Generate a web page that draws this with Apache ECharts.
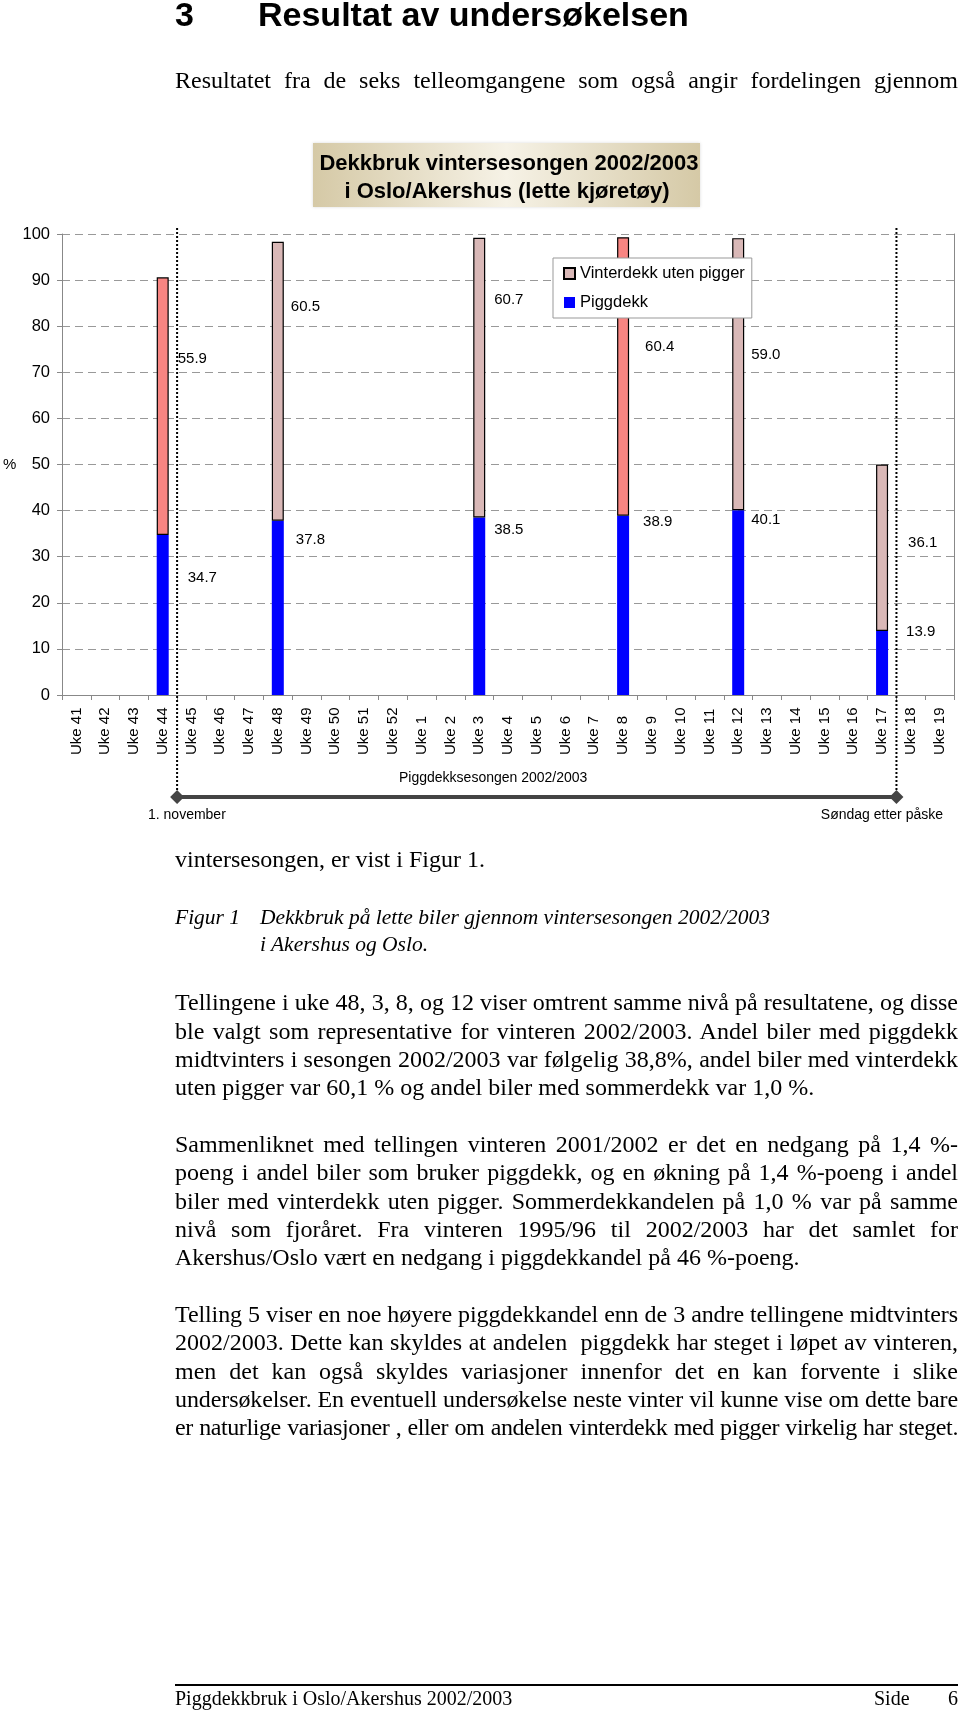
<!DOCTYPE html>
<html>
<head>
<meta charset="utf-8">
<script src="https://cdn.jsdelivr.net/npm/echarts/dist/echarts.min.js"></script>
<style>
  html, body { margin:0; padding:0; background:#fff; }
  #page { position:relative; width:960px; height:1712px; overflow:hidden; }
  #chart { position:absolute; left:0; top:0; width:960px; height:1712px; }
  .t { position:absolute; font-family:"Liberation Serif","Times New Roman",serif; font-size:24px; line-height:28.33px; color:#000; white-space:normal; }
  .j { width:783px; text-align:justify; text-align-last:justify; }
  .l { width:783px; text-align:left; }
  .h { position:absolute; font-family:"Liberation Sans",Arial,sans-serif; font-weight:bold; font-size:34px; line-height:34px; color:#000; top:-3px; }
  .cap { position:absolute; font-family:"Liberation Serif","Times New Roman",serif; font-style:italic; font-size:21.5px; line-height:26.7px; color:#000; white-space:nowrap; }
  .foot { position:absolute; font-family:"Liberation Serif","Times New Roman",serif; font-size:20px; line-height:24px; color:#000; white-space:nowrap; top:1686px; }
</style>
</head>
<body>
<div id="page">
  <div id="chart"></div>

  <div class="h" style="left:175px;">3</div>
  <div class="h" style="left:258px;">Resultat av undersøkelsen</div>

  <div class="t j" style="left:175px; top:66px;">Resultatet fra de seks telleomgangene som også angir fordelingen gjennom</div>

  <div class="t l" style="left:175px; top:845px;">vintersesongen, er vist i Figur 1.</div>

  <div class="cap" style="left:175px; top:904px;">Figur 1</div>
  <div class="cap" style="left:260px; top:904px;">Dekkbruk på lette biler gjennom vintersesongen 2002/2003</div>
  <div class="cap" style="left:260px; top:930.7px;">i Akershus og Oslo.</div>

  <div class="t j" style="left:175px; top:988.2px;">Tellingene i uke 48, 3, 8, og 12 viser omtrent samme nivå på resultatene, og disse</div>
  <div class="t j" style="left:175px; top:1016.5px;">ble valgt som representative for vinteren 2002/2003. Andel biler med piggdekk</div>
  <div class="t j" style="left:175px; top:1044.8px;">midtvinters i sesongen 2002/2003 var følgelig 38,8%, andel biler med vinterdekk</div>
  <div class="t l" style="left:175px; top:1073.2px;">uten pigger var 60,1 % og andel biler med sommerdekk var 1,0 %.</div>

  <div class="t j" style="left:175px; top:1130px;">Sammenliknet med tellingen vinteren 2001/2002 er det en nedgang på 1,4 %-</div>
  <div class="t j" style="left:175px; top:1158.3px;">poeng i andel biler som bruker piggdekk, og en økning på 1,4 %-poeng i andel</div>
  <div class="t j" style="left:175px; top:1186.7px;">biler med vinterdekk uten pigger. Sommerdekkandelen på 1,0 % var på samme</div>
  <div class="t j" style="left:175px; top:1215px;">nivå som fjoråret. Fra vinteren 1995/96 til 2002/2003 har det samlet for</div>
  <div class="t l" style="left:175px; top:1243.3px;">Akershus/Oslo vært en nedgang i piggdekkandel på 46 %-poeng.</div>

  <div class="t j" style="left:175px; top:1300px;">Telling 5 viser en noe høyere piggdekkandel enn de 3 andre tellingene midtvinters</div>
  <div class="t j" style="left:175px; top:1328.3px;">2002/2003. Dette kan skyldes at andelen&nbsp; piggdekk har steget i løpet av vinteren,</div>
  <div class="t j" style="left:175px; top:1356.7px;">men det kan også skyldes variasjoner innenfor det en kan forvente i slike</div>
  <div class="t j" style="left:175px; top:1385px;">undersøkelser. En eventuell undersøkelse neste vinter vil kunne vise om dette bare</div>
  <div class="t j" style="left:175px; top:1413.3px;">er naturlige variasjoner , eller om andelen vinterdekk med pigger virkelig har steget.</div>

  <div style="position:absolute; left:175px; top:1684px; width:783px; height:2px; background:#000;"></div>
  <div class="foot" style="left:175px;">Piggdekkbruk i Oslo/Akershus 2002/2003</div>
  <div class="foot" style="left:874px;">Side</div>
  <div class="foot" style="left:948px;">6</div>
</div>

<script>
// ---------- DATA ----------
const weeks = [
  'Uke 41','Uke 42','Uke 43','Uke 44','Uke 45','Uke 46','Uke 47','Uke 48','Uke 49','Uke 50','Uke 51','Uke 52',
  'Uke 1','Uke 2','Uke 3','Uke 4','Uke 5','Uke 6','Uke 7','Uke 8','Uke 9','Uke 10','Uke 11','Uke 12',
  'Uke 13','Uke 14','Uke 15','Uke 16','Uke 17','Uke 18','Uke 19'
];
const piggdekk = [
  null,null,null,34.7,null,null,null,37.8,null,null,null,null,
  null,null,38.5,null,null,null,null,38.9,null,null,null,40.1,
  null,null,null,null,13.9,null,null
];
const vinterdekk = [
  null,null,null,55.9,null,null,null,60.5,null,null,null,null,
  null,null,60.7,null,null,null,null,60.4,null,null,null,59.0,
  null,null,null,null,36.1,null,null
];
const seriesNames = ['Vinterdekk uten pigger', 'Piggdekk'];
const titleLines = ['Dekkbruk vintersesongen 2002/2003', 'i Oslo/Akershus (lette kjøretøy)'];
const seasonLabel = 'Piggdekksesongen 2002/2003';
const seasonStart = '1. november';
const seasonEnd = 'Søndag etter påske';
const seasonStartBetween = ['Uke 44', 'Uke 45'];
const seasonEndBetween = ['Uke 17', 'Uke 18'];

// ---------- STYLE ----------
const salmonWeeks = ['Uke 44', 'Uke 8'];
const piggLabelOffset = {'Uke 44':[19,-37],'Uke 48':[12,-68],'Uke 3':[9,-76],'Uke 8':[14,-83],'Uke 12':[7,-83],'Uke 17':[18,-31]};
const vintLabelOffset = {'Uke 44':[9,-47],'Uke 48':[7,-74],'Uke 3':[9,-78],'Uke 8':[16,-30],'Uke 12':[7,-19],'Uke 17':[20,-5]};
const SANS = '"Liberation Sans", Arial, sans-serif';
const BLUE = '#0000FF', PINK = '#D9B8B7', SALMON = '#F88582';

// fit justified lines so they stay on one line
document.querySelectorAll('.j, .l').forEach(el => {
  let ls = 0;
  while (el.getBoundingClientRect().height > 40 && ls > -3) {
    ls -= 0.1;
    el.style.letterSpacing = ls + 'px';
  }
});

const chart = echarts.init(document.getElementById('chart'), null, {renderer:'canvas'});

const labelBase = {
  show: true, position: 'right', distance: 0, color: '#000',
  fontSize: 15, fontFamily: SANS,
  formatter: p => Number(p.value).toFixed(1)
};

const piggData = piggdekk.map((v, i) => v == null ? null : {
  value: v,
  label: Object.assign({}, labelBase, {offset: piggLabelOffset[weeks[i]] || [0,0]})
});
const vintData = vinterdekk.map((v, i) => v == null ? null : {
  value: v,
  itemStyle: salmonWeeks.includes(weeks[i]) ? {color: SALMON} : undefined,
  label: Object.assign({}, labelBase, {offset: vintLabelOffset[weeks[i]] || [0,0]})
});

chart.setOption({
  animation: false,
  backgroundColor: '#fff',
  textStyle: {fontFamily: SANS},
  grid: {left: 62, top: 234, right: 6, height: 461, containLabel: false},
  legend: {
    orient: 'vertical', left: 553, top: 258,
    data: seriesNames,
    icon: 'rect', itemWidth: 11, itemHeight: 11, itemGap: 12,
    padding: [7, 7, 7, 10],
    backgroundColor: '#fff', borderColor: '#999', borderWidth: 1,
    textStyle: {fontSize: 16.5, color: '#000', fontFamily: SANS}
  },
  xAxis: {
    type: 'category', data: weeks, boundaryGap: true,
    axisLine: {lineStyle: {color: '#888', width: 1}},
    axisTick: {show: true, interval: 0, length: 5, lineStyle: {color: '#888'}},
    axisLabel: {interval: 0, rotate: 90, align: 'left', verticalAlign: 'middle', margin: 60,
                fontSize: 15, color: '#000', fontFamily: SANS},
    splitLine: {show: false}
  },
  yAxis: [{
    type: 'value', min: 0, max: 100, interval: 10,
    axisLine: {show: true, lineStyle: {color: '#888'}},
    axisTick: {show: true, length: 5, lineStyle: {color: '#888'}},
    axisLabel: {fontSize: 16.5, color: '#000', margin: 12, fontFamily: SANS},
    splitLine: {show: true, lineStyle: {color: '#999', type: [8, 5], width: 1}}
  }, {
    type: 'value', min: 0, max: 100, interval: 10, position: 'right',
    axisLine: {show: true, lineStyle: {color: '#888'}},
    axisTick: {show: false}, axisLabel: {show: false}, splitLine: {show: false}
  }],
  series: [{
    name: seriesNames[1], type: 'bar', stack: 'dekk', barWidth: 12,
    itemStyle: {color: BLUE},
    data: piggData
  }, {
    name: seriesNames[0], type: 'bar', stack: 'dekk', barWidth: 12,
    itemStyle: {color: PINK, borderColor: '#000', borderWidth: 1.2},
    data: vintData
  }]
});

// ---------- annotations placed via the category scale ----------
const px = w => chart.convertToPixel({xAxisIndex: 0}, w);
const xStart = (px(seasonStartBetween[0]) + px(seasonStartBetween[1])) / 2;
const xEnd = (px(seasonEndBetween[0]) + px(seasonEndBetween[1])) / 2;
const yBracket = 797;
const diamond = (cx, cy, r) => ({
  type: 'polygon', shape: {points: [[cx, cy - r], [cx + r, cy], [cx, cy + r], [cx - r, cy]]},
  style: {fill: '#444'}, z: 20
});

chart.setOption({
  graphic: [
    // title box
    {type: 'rect', shape: {x: 313, y: 143, width: 387, height: 64},
     style: {fill: new echarts.graphic.LinearGradient(0, 0, 1, 0, [
       {offset: 0, color: '#D5C9A6'}, {offset: 0.5, color: '#F6F2E6'}, {offset: 1, color: '#D5C9A6'}]),
       shadowBlur: 3, shadowColor: 'rgba(0,0,0,0.15)'}, z: 10},
    {type: 'text', x: 509, y: 163.5, z: 11,
     style: {text: titleLines[0], font: 'bold 22px ' + SANS, fill: '#000', align: 'center', verticalAlign: 'middle'}},
    {type: 'text', x: 507, y: 191.7, z: 11,
     style: {text: titleLines[1], font: 'bold 22px ' + SANS, fill: '#000', align: 'center', verticalAlign: 'middle'}},
    // % axis name
    {type: 'text', x: 3, y: 465, z: 11,
     style: {text: '%', font: '15px ' + SANS, fill: '#000', align: 'left', verticalAlign: 'middle'}},
    // dotted season limits
    {type: 'line', shape: {x1: xStart, y1: 228, x2: xStart, y2: yBracket}, z: 15,
     style: {stroke: '#000', lineWidth: 2, lineDash: [2, 2]}},
    {type: 'line', shape: {x1: xEnd, y1: 228, x2: xEnd, y2: yBracket}, z: 15,
     style: {stroke: '#000', lineWidth: 2, lineDash: [2, 2]}},
    // season bracket
    {type: 'line', shape: {x1: xStart, y1: yBracket, x2: xEnd, y2: yBracket}, z: 16,
     style: {stroke: '#444', lineWidth: 4}},
    diamond(xStart, yBracket, 7),
    diamond(xEnd, yBracket, 7),
    {type: 'text', x: 399, y: 778.5, z: 11,
     style: {text: seasonLabel, font: '14px ' + SANS, fill: '#000', align: 'left', verticalAlign: 'middle'}},
    {type: 'text', x: 148, y: 815, z: 11,
     style: {text: seasonStart, font: '14px ' + SANS, fill: '#000', align: 'left', verticalAlign: 'middle'}},
    {type: 'text', x: 943, y: 815, z: 11,
     style: {text: seasonEnd, font: '14px ' + SANS, fill: '#000', align: 'right', verticalAlign: 'middle'}}
  ]
});
</script>
</body>
</html>
